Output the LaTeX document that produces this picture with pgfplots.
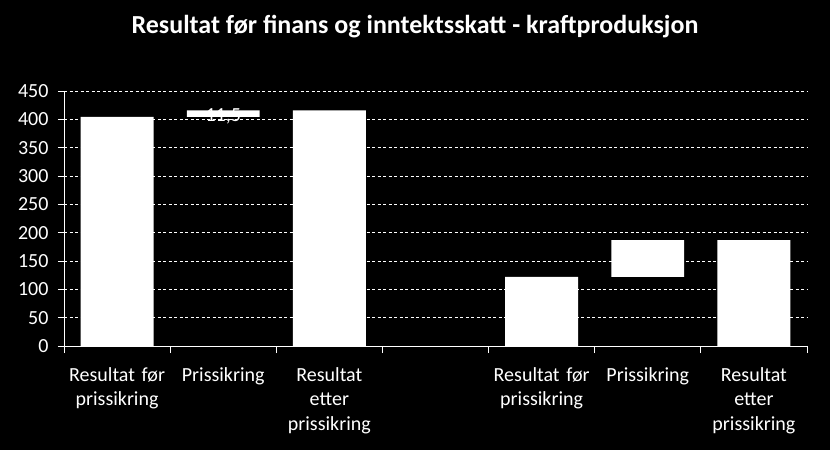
\documentclass[border=0pt]{standalone}
\usepackage{fontspec}
\setmainfont{Carlito}
\usepackage{pgfplots}
\pgfplotsset{compat=1.18}
\begin{document}
\begin{tikzpicture}
\fill[black] (0,0) rectangle (830pt,450pt);
\useasboundingbox (0,0) rectangle (830pt,450pt);
\node[white,font=\fontsize{26}{30}\selectfont\bfseries] at (415pt,423pt) {Resultat før finans og inntektsskatt - kraftproduksjon};
\begin{axis}[
  at={(64pt,104pt)}, anchor=south west,
  scale only axis, width=743pt, height=255pt,
  xmin=-0.5, xmax=6.5, ymin=0, ymax=450,
  ybar stacked, bar width=0.687,
  ytick={0,50,...,450},
  xtick={0,1,2,4,5,6},
  xticklabels={Resultat før\\prissikring, Prissikring, Resultat\\etter\\prissikring, Resultat før\\prissikring, Prissikring, Resultat\\etter\\prissikring},
  minor xtick={-0.5,0.5,...,6.5},
  major x tick style={draw=none},
  minor tick length=7pt, major tick length=6pt,
  tick align=outside,
  axis x line*=bottom, axis y line*=left,
  axis line style={white, line width=0.8pt},
  every tick/.style={white, line width=0.8pt},
  minor x tick style={white, line width=0.8pt},
  ymajorgrids, grid style={white, dashed, line width=0.7pt, dash pattern=on 3pt off 2.5pt},
  ticklabel style={white, font=\fontsize{20}{24.5}\selectfont},
  /pgf/number format/assume math mode=true,
  xticklabel style={align=center, text width=110pt, yshift=-12pt},
  yticklabel style={xshift=-6pt},
  clip=false,
]
\node[white, font=\fontsize{20}{24}\selectfont] at (axis cs:1,406) {11,5};
\addplot[draw=none, fill=none] coordinates {(0,0) (1,404.5) (2,0) (4,0) (5,122) (6,0)};
\addplot[draw=none, fill=white] coordinates {(0,404.5) (1,11.5) (2,416) (4,122) (5,65) (6,187)};
\end{axis}
\end{tikzpicture}
\end{document}
